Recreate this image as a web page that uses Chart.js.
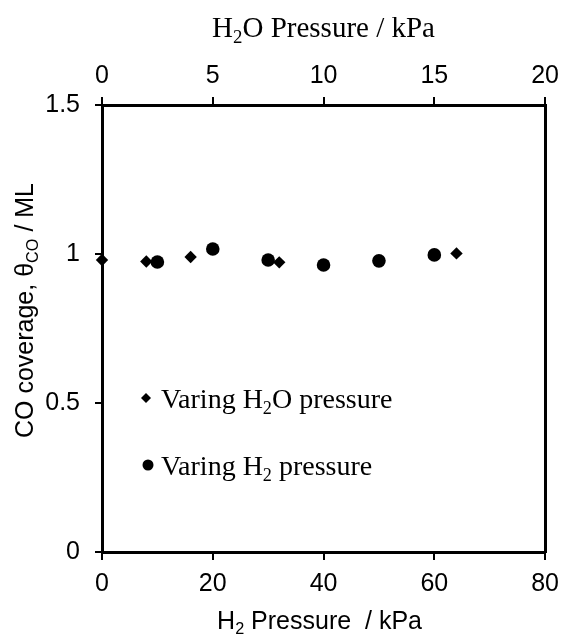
<!DOCTYPE html>
<html>
<head>
<meta charset="utf-8">
<script src="https://cdn.jsdelivr.net/npm/chart.js@4/dist/chart.umd.min.js"></script>
<style>
  html, body { margin: 0; padding: 0; background: #fff; }
  #wrap { width: 568px; height: 638px; }
</style>
</head>
<body>
<div id="wrap"><canvas id="chart" width="568" height="638"></canvas></div>
<script>
// top axis: H2O pressure (kPa), bottom axis: H2 pressure (kPa)
const h2oPressure = [0, 2, 4, 8, 16]
const coverageH2O = [0.98, 0.975, 0.99, 0.972, 1.002]

const h2Pressure = [10, 20, 30, 40, 50, 60]
const coverageH2 = [0.973, 1.017, 0.98, 0.963, 0.977, 0.997]

const yTicks = [0, 0.5, 1, 1.5]

const sans = 'Arial, "Liberation Sans", sans-serif'
const serif = '"Times New Roman", "Liberation Serif", serif'

function toPoints(xs, ys) {
  return xs.map((x, i) => ({ x: x, y: ys[i] }))
}

// text with subscripts, parts = [{t, sub}]
function drawParts(ctx, parts, x, y, size, family, align) {
  let w = 0
  parts.forEach(p => {
    ctx.font = (p.sub ? size * 0.65 : size) + 'px ' + family
    w += ctx.measureText(p.t).width
  })
  let cx = align === 'center' ? x - w / 2 : x
  parts.forEach(p => {
    const s = p.sub ? size * 0.65 : size
    ctx.font = s + 'px ' + family
    ctx.fillText(p.t, cx, y + (p.sub ? size * 0.2 : 0))
    cx += ctx.measureText(p.t).width
  })
}

const labelsPlugin = {
  id: 'labels',
  afterDraw(chart) {
    const { ctx, chartArea: { left, right, top, bottom } } = chart
    const midX = (left + right) / 2
    ctx.save()
    ctx.fillStyle = '#000'
    ctx.textBaseline = 'alphabetic'

    drawParts(ctx, [{ t: 'H' }, { t: '2', sub: true }, { t: 'O Pressure / kPa' }], midX, 37, 29, serif, 'center')
    drawParts(ctx, [{ t: 'H' }, { t: '2', sub: true }, { t: ' Pressure  / kPa' }], midX - 4, 629, 25, sans, 'center')

    ctx.save()
    ctx.translate(33, (top + bottom) / 2 - 18)
    ctx.rotate(-Math.PI / 2)
    drawParts(ctx, [{ t: 'CO coverage, \u03b8' }, { t: 'CO', sub: true }, { t: ' / ML' }], 0, 0, 25, sans, 'center')
    ctx.restore()

    // legend
    const lx = left + 44
    ctx.beginPath()
    ctx.moveTo(lx, 393); ctx.lineTo(lx + 5, 398); ctx.lineTo(lx, 403); ctx.lineTo(lx - 5, 398)
    ctx.closePath()
    ctx.fill()
    drawParts(ctx, [{ t: 'Varing H' }, { t: '2', sub: true }, { t: 'O pressure' }], lx + 15, 408, 28, serif, 'left')

    ctx.beginPath()
    ctx.arc(lx + 2, 465, 5.5, 0, Math.PI * 2)
    ctx.fill()
    drawParts(ctx, [{ t: 'Varing H' }, { t: '2', sub: true }, { t: ' pressure' }], lx + 15, 475, 28, serif, 'left')
    ctx.restore()
  }
}

const axisGrid = { drawOnChartArea: false, color: '#000', lineWidth: 2, tickLength: 8 }
const axisBorder = { color: '#000', width: 3 }

new Chart(document.getElementById('chart'), {
  type: 'scatter',
  data: {
    datasets: [
      {
        label: 'Varing H2O pressure',
        data: toPoints(h2oPressure, coverageH2O),
        xAxisID: 'x2',
        yAxisID: 'y',
        pointStyle: 'rectRot',
        pointRadius: 6.2,
        backgroundColor: '#000',
        borderColor: '#000',
        borderWidth: 0,
        clip: false
      },
      {
        label: 'Varing H2 pressure',
        data: toPoints(h2Pressure, coverageH2),
        xAxisID: 'x',
        yAxisID: 'y',
        pointStyle: 'circle',
        pointRadius: 6.8,
        backgroundColor: '#000',
        borderColor: '#000',
        borderWidth: 0,
        clip: false
      }
    ]
  },
  options: {
    responsive: false,
    animation: false,
    layout: { padding: 0 },
    plugins: { legend: { display: false }, tooltip: { enabled: false } },
    scales: {
      x: {
        type: 'linear', position: 'bottom', min: 0, max: 80,
        ticks: { stepSize: 20, color: '#000', font: { family: sans, size: 25 }, padding: 9, maxRotation: 0 },
        grid: axisGrid, border: axisBorder,
        afterFit(s) { s.height = 86 }
      },
      x2: {
        type: 'linear', position: 'top', min: 0, max: 20,
        ticks: { stepSize: 5, color: '#000', font: { family: sans, size: 25 }, padding: 6, maxRotation: 0 },
        grid: axisGrid, border: axisBorder,
        afterFit(s) { s.height = 105 }
      },
      y: {
        type: 'linear', position: 'left', min: 0, max: 1.5,
        afterBuildTicks(s) { s.ticks = yTicks.map(v => ({ value: v })) },
        ticks: { color: '#000', font: { family: sans, size: 25 }, padding: 15, callback: v => String(v) },
        grid: { drawOnChartArea: false, color: '#000', lineWidth: 2, tickLength: 7 },
        border: axisBorder,
        afterFit(s) { s.width = 102 }
      },
      y2: {
        type: 'linear', position: 'right', min: 0, max: 1.5,
        ticks: { display: false },
        grid: { display: false },
        border: axisBorder,
        afterFit(s) { s.width = 17 }
      }
    }
  },
  plugins: [labelsPlugin]
})
</script>
</body>
</html>
